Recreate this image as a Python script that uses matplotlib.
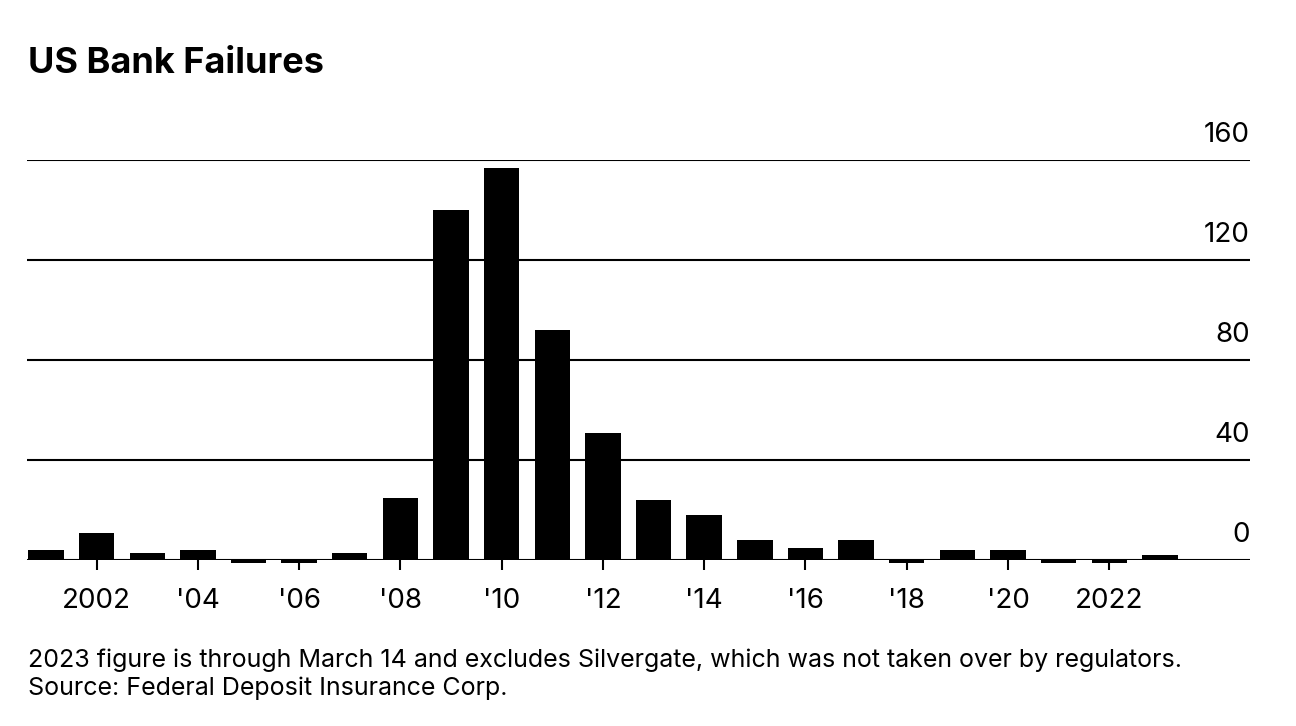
import numpy as np
import matplotlib
matplotlib.use("Agg")
import matplotlib.pyplot as plt

# Annual US bank failures (FDIC); 2023 through March 14
years = list(range(2001, 2024))
failures = [4, 11, 3, 4, 0, 0, 3, 25, 140, 157, 92, 51, 24, 18, 8, 5, 8, 0, 4, 4, 0, 0, 2]

tick_years = list(range(2002, 2023, 2))
tick_labels = ["2002", "'04", "'06", "'08", "'10", "'12", "'14", "'16", "'18", "'20", "2022"]
y_ticks = [0, 40, 80, 120, 160]

plt.rcParams['font.family'] = ['Inter', 'DejaVu Sans']

W, H = 1296, 726
fig = plt.figure(figsize=(W / 100, H / 100), dpi=100)
ax = fig.add_axes([27 / W, (H - 560) / H, (1250 - 27) / W, 400 / H])

# zero years are shown as a thin stub below the baseline
vals = np.array(failures, dtype=float)
heights = np.where(vals == 0, -1.2, vals)
ax.bar(years, heights, width=0.7, color='black', clip_on=False, zorder=3)

ax.set_xlim(2000.625, 2024.78)
ax.set_ylim(0, 160)

for v in y_ticks:
    ax.axhline(v, color='black', lw=1.5, zorder=2)
    ax.text(1.0, v + 7, str(v), transform=ax.get_yaxis_transform(),
            ha='right', va='baseline', fontsize=20)

for s in ax.spines.values():
    s.set_visible(False)
ax.set_yticks([])
ax.set_xticks(tick_years)
ax.set_xticklabels(tick_labels, fontsize=20)
ax.tick_params(axis='x', length=7, width=1.5, pad=13, color='black')

fig.text(28 / W, 1 - 73 / H, "US Bank Failures", fontsize=26, fontweight='bold',
         ha='left', va='baseline')
fig.text(28 / W, 1 - 667 / H,
         "2023 figure is through March 14 and excludes Silvergate, which was not taken over by regulators.",
         fontsize=18, ha='left', va='baseline')
fig.text(28 / W, 1 - 695 / H, "Source: Federal Deposit Insurance Corp.",
         fontsize=18, ha='left', va='baseline')

fig.savefig("out.png", dpi=100, facecolor='white')
